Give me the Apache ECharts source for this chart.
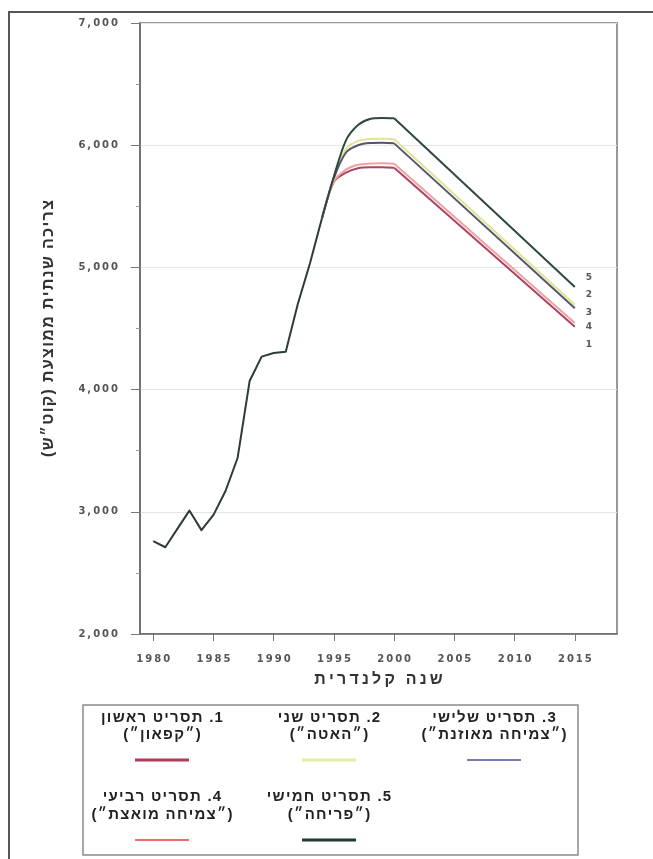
<!DOCTYPE html>
<html>
<head>
<meta charset="utf-8">
<script src="https://cdn.jsdelivr.net/npm/echarts@6/dist/echarts.min.js"></script>
<style>
html,body{margin:0;padding:0;background:#fff;}
#chart{width:653px;height:859px;}
</style>
</head>
<body>
<div id="chart"></div>
<script>
// ---- data ----
const historyYears  = [1980,1981,1982,1983,1984,1985,1986,1987,1988,1989,1990,1991,1992,1993,1994];
const historyValues = [2760,2710,2860,3010,2850,2975,3170,3440,4070,4270,4300,4310,4700,5030,5400];
const scenarioYears = [1995,1996,1997,1998,1999,2000,2015];
const scenario1 = [5700,5775,5812,5820,5820,5815,4515];
const scenario2 = [5735,5970,6035,6050,6052,6048,4695];
const scenario3 = [5730,5940,6000,6018,6020,6015,4665];
const scenario4 = [5705,5800,5840,5850,5852,5848,4545];
const scenario5 = [5745,6040,6165,6215,6222,6220,4840];
const scenarioNames = ['1. תסריט ראשון','2. תסריט שני','3. תסריט שלישי','4. תסריט רביעי','5. תסריט חמישי'];
const scenarioSubs  = ['(״קפאון״)','(״האטה״)','(״צמיחה מאוזנת״)','(״צמיחה מואצת״)','(״פריחה״)'];
const endLabels = ['1','2','3','4','5'];
const xTickYears = [1980,1985,1990,1995,2000,2005,2010,2015];
const xAxisTitle = 'שנה קלנדרית';
const yAxisTitle = 'צריכה שנתית ממוצעת (קוט״ש)';

// ---- styles ----
const lineColors   = ['#ad4262','#e2e496','#55556e','#eea2a2','#2d4a3c'];
const swatchColors = ['#b03a5a','#e6eca4','#7a78b8','#f07070','#233b2e'];
const swatchWidths = [3,3,2,2,3];
const labelOffsets = [[0,18],[0,-10],[0,4],[0,4],[0,-9]];
const RLM = '\u200F';
const FONT = '"DejaVu Sans", "Liberation Sans", sans-serif';
const HFONT = '"Liberation Sans", "DejaVu Sans", sans-serif';

const scenarios = [scenario1,scenario2,scenario3,scenario4,scenario5];
const lastHist = historyYears.length - 1;
const spaced = (s, sp) => String(s).split('').join(sp || '\u2009');
const rtl = s => RLM + s + RLM;

const series = [];
scenarios.forEach((vals,i)=>{
  const n = scenarioYears.length;
  // rise and plateau (curved)
  const rise = [[historyYears[lastHist], historyValues[lastHist]]];
  for (let k=0;k<n-1;k++) rise.push([scenarioYears[k], vals[k]]);
  series.push({
    type:'line', name:scenarioNames[i], data:rise, showSymbol:false,
    smooth:0.3, z:2+i,
    lineStyle:{color:lineColors[i], width:2}, emphasis:{disabled:true}
  });
  // straight decline to the last year
  series.push({
    type:'line', name:scenarioNames[i], data:[[scenarioYears[n-2], vals[n-2]],[scenarioYears[n-1], vals[n-1]]],
    showSymbol:false, smooth:false, z:2+i,
    lineStyle:{color:lineColors[i], width:2}, emphasis:{disabled:true},
    endLabel:{show:true, formatter:endLabels[i], distance:11, offset:labelOffsets[i],
      fontSize:9, fontWeight:'bold', color:'#555', fontFamily:FONT}
  });
});
series.push({
  type:'line', name:'history', data:historyYears.map((y,i)=>[y,historyValues[i]]),
  showSymbol:false, smooth:false, z:10,
  lineStyle:{color:'#2f3b35', width:2, join:'round'}, emphasis:{disabled:true}
});

// legend built as graphics
const colX = [162,329,494];
const rowY = [[718,735,760],[797,815,840]];
const legendGraphics = [{
  type:'rect', shape:{x:83,y:705,width:495,height:150},
  style:{fill:'none',stroke:'#8a8a8a',lineWidth:1.5}
}];
scenarioNames.forEach((nm,i)=>{
  const row = i<3?0:1, col = i<3?i:i-3;
  const cx = colX[col], ys = rowY[row];
  legendGraphics.push({type:'text', x:cx, y:ys[0],
    style:{text:rtl(spaced(nm,'\u200A')), fontSize:15, fontWeight:'bold', fontFamily:HFONT, fill:'#222', align:'center', verticalAlign:'middle'}});
  legendGraphics.push({type:'text', x:cx, y:ys[1],
    style:{text:rtl(spaced(scenarioSubs[i],'\u200A')), fontSize:15, fontWeight:'bold', fontFamily:HFONT, fill:'#222', align:'center', verticalAlign:'middle'}});
  legendGraphics.push({type:'line', shape:{x1:cx-27,y1:ys[2],x2:cx+27,y2:ys[2]},
    style:{stroke:swatchColors[i], lineWidth:swatchWidths[i]}});
});
// outer frame of the scanned page
legendGraphics.push({type:'polyline', shape:{points:[[9,859],[9,12],[653,12]]},
  style:{fill:'none',stroke:'#555',lineWidth:2}});

const chart = echarts.init(document.getElementById('chart'), null, {renderer:'canvas'});
chart.setOption({
  animation:false,
  backgroundColor:'#fff',
  grid:{left:140,right:36,top:23,bottom:225,show:true,borderColor:'#777',borderWidth:1.5,backgroundColor:'transparent'},
  xAxis:{
    type:'value', min:1978.9, max:2018.5,
    name:rtl(spaced(xAxisTitle)), nameLocation:'middle', nameGap:38,
    nameTextStyle:{fontSize:16, fontWeight:'bold', color:'#333', fontFamily:HFONT},
    axisLine:{show:true,lineStyle:{color:'#666',width:1.5}},
    axisTick:{show:true,customValues:xTickYears,length:7,lineStyle:{color:'#777'}},
    axisLabel:{customValues:xTickYears,margin:20,formatter:v=>spaced(v),fontSize:10,fontWeight:'bold',color:'#555',fontFamily:FONT},
    splitLine:{show:false}
  },
  yAxis:{
    type:'value', min:2000, max:7000, interval:1000,
    name:rtl(spaced(yAxisTitle,'\u200A')), nameLocation:'middle', nameGap:83, nameRotate:90,
    nameTextStyle:{fontSize:16, fontWeight:'bold', color:'#333', fontFamily:HFONT},
    axisLine:{show:true,lineStyle:{color:'#666',width:1.5}},
    axisTick:{show:true,length:9,lineStyle:{color:'#777'}},
    minorTick:{show:true,splitNumber:2,length:4,lineStyle:{color:'#999'}},
    axisLabel:{margin:22,formatter:v=>spaced(Number(v).toLocaleString('en-US')),fontSize:10,fontWeight:'bold',color:'#555',fontFamily:FONT},
    splitLine:{show:true,lineStyle:{color:'#e4e4e4',width:1}}
  },
  series:series,
  graphic:legendGraphics
});
</script>
</body>
</html>
